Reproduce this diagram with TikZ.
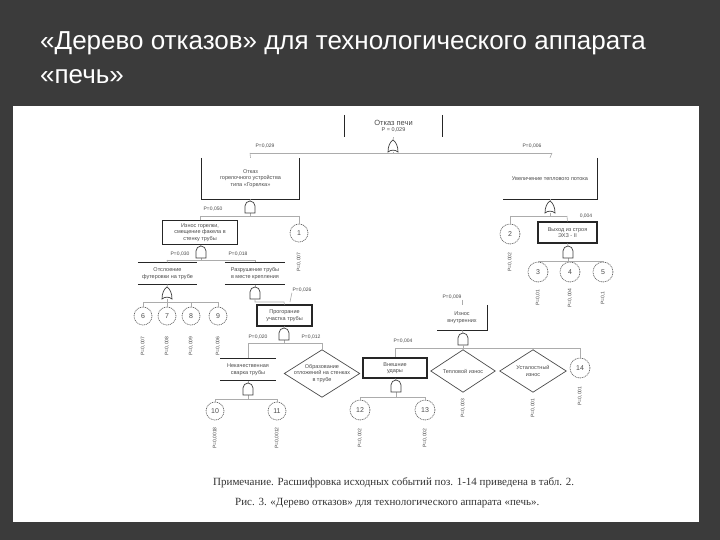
\documentclass[tikz,border=0pt]{standalone}
\usepackage{fontspec}
\setmainfont{Liberation Serif}
\setsansfont{Liberation Sans}

\definecolor{slidebg}{HTML}{3B3B3B}
\definecolor{inkgray}{HTML}{4A4A4A}

\tikzset{
  gate/.style={line width=0.7pt, draw=black!75, fill=white},
  orgate/.pic={\draw[gate] (-5,12) .. controls (-5,6) and (-3,2) .. (0,0)
      .. controls (3,2) and (5,6) .. (5,12) .. controls (2,9.5) and (-2,9.5) .. (-5,12) -- cycle;},
  andgate/.pic={\draw[gate] (-5,12) -- (-5,5) arc[start angle=180, end angle=360, radius=5] -- (5,12) -- cycle;}
}

\begin{document}
\begin{tikzpicture}[x=1pt, y=-1pt,
    edge/.style={line width=0.6pt, gray!65},
    frame/.style={line width=1.1pt, black!85},
    rhomb/.style={line width=0.7pt, draw=black!70},
    heading/.style={font=\sffamily\fontsize{26}{30}\selectfont, text=white, inner sep=0pt},
    evt/.style={font=\sffamily\fontsize{5.5}{6.5}\selectfont, text=inkgray, align=center, inner sep=1pt},
    prob/.style={font=\sffamily\fontsize{5}{6}\selectfont, text=inkgray, inner sep=0.5pt},
    vprob/.style={prob, rotate=90},
    basic/.style={circle, draw=black!60, dash pattern=on 1pt off 0.8pt, line width=0.7pt,
        minimum size=18pt, inner sep=0pt, font=\sffamily\fontsize{7}{8}\selectfont, text=black!70},
    note/.style={font=\fontsize{11}{13}\selectfont, text=black!80, inner sep=0pt}
]
\useasboundingbox (0,0) rectangle (720,540);

% Slide background and sheet
\fill[slidebg] (0,0) rectangle (720,540);
\fill[white] (13,106) rectangle (699,522);

% Title
\node[heading, anchor=base west] (t1) at (40,50) {«Дерево отказов» для технологического аппарата};
\node[heading, anchor=base west] (t2) at (40,84) {«печь»};

% Top event
\node[evt, minimum width=97pt, minimum height=22pt] (top) at (393.5,126)
    {{\fontsize{7.5}{8}\selectfont Отказ печи}\\Р = 0,029};
\draw[frame] (top.north west) -- (top.south west);
\draw[frame] (top.north east) -- (top.south east);
\coordinate (g0) at (393,140);
\coordinate (g0o) at (393,152);
\coordinate (h0L) at (250,153);
\coordinate (h0R) at (552,153);
\draw[edge] (top.south) -- (g0);
\draw[edge] (h0L) -- (h0R);
\draw[edge] (g0o) -- (g0o |- h0L);
\pic at (g0) {orgate};
\node[prob] (p0L) at (265,146) {Р=0,029};
\node[prob] (p0R) at (532,146) {Р=0,006};

% Second level
\node[evt, minimum width=97pt, minimum height=41pt] (l1) at (250.5,178.5)
    {Отказ\\горелочного устройства\\типа «Горелка»};
\draw[frame] (l1.north west) -- (l1.south west) -- (l1.south east) -- (l1.north east);
\draw[edge] (h0L) -- (l1.north);
\node[evt, minimum width=94pt, minimum height=41pt] (r1) at (550,178.5)
    {Увеличение теплового потока};
\draw[frame] (r1.north east) -- (r1.south east) -- (r1.south west);
\draw[edge] (h0R) -- (r1.north);

% Left branch
\coordinate (g1) at (250,201);
\coordinate (g1o) at (250,213);
\coordinate (h1L) at (200,216);
\coordinate (h1R) at (299,216);
\draw[edge] (l1.south) -- (g1);
\draw[edge] (g1o) -- (g1o |- h1L);
\draw[edge] (h1L) -- (h1R);
\pic at (g1) {andgate};
\node[prob] (p1) at (213,209) {Р=0,050};

\node[evt, draw=black!85, line width=1.1pt, minimum width=75pt, minimum height=24pt] (l2) at (200,232.5)
    {Износ горелки,\\смещение факела в\\стенку трубы};
\draw[edge] (h1L) -- (l2.north);
\node[basic] (c1) at (299,233) {1};
\draw[edge] (h1R) -- (c1.north);
\node[vprob] (v1) at (299,262) {Р=0,007};

\coordinate (g2) at (201,246);
\coordinate (g2o) at (201,258);
\coordinate (h2L) at (167,260);
\coordinate (h2R) at (255,260);
\draw[edge] (l2.south) -- (g2);
\draw[edge] (g2o) -- (g2o |- h2L);
\draw[edge] (h2L) -- (h2R);
\pic at (g2) {andgate};
\node[prob] (p2L) at (180,254) {Р=0,030};
\node[prob] (p2R) at (238,254) {Р=0,018};

\node[evt, minimum width=59pt, minimum height=22pt] (l3a) at (167.5,273.5)
    {Отслоение\\футеровки на трубе};
\draw[frame] (l3a.north west) -- (l3a.north east);
\draw[frame] (l3a.south west) -- (l3a.south east);
\node[evt, minimum width=60pt, minimum height=22pt] (l3b) at (255,273.5)
    {Разрушение трубы\\в месте крепления};
\draw[frame] (l3b.north west) -- (l3b.north east);
\draw[frame] (l3b.south west) -- (l3b.south east);
\draw[edge] (h2L) -- (l3a.north);
\draw[edge] (h2R) -- (l3b.north);

\coordinate (g3a) at (167,287);
\coordinate (g3ao) at (167,299);
\coordinate (h3L) at (143,302);
\coordinate (h3R) at (218,302);
\draw[edge] (l3a.south) -- (g3a);
\draw[edge] (g3ao) -- (g3ao |- h3L);
\draw[edge] (h3L) -- (h3R);
\pic at (g3a) {orgate};
\node[basic] (c6) at (143,316) {6};
\node[basic] (c7) at (167,316) {7};
\node[basic] (c8) at (191,316) {8};
\node[basic] (c9) at (218,316) {9};
\draw[edge] (h3L) -- (c6.north);
\draw[edge] (g3ao) -- (c7.north);
\draw[edge] (c8.north |- h3L) -- (c8.north);
\draw[edge] (h3R) -- (c9.north);
\node[vprob] (v6) at (143,346) {Р=0,007};
\node[vprob] (v7) at (167,346) {Р=0,008};
\node[vprob] (v8) at (191,346) {Р=0,009};
\node[vprob] (v9) at (218,346) {Р=0,006};

\coordinate (g3b) at (255,287);
\coordinate (g3bo) at (255,299);
\coordinate (k4) at (284,302);
\draw[edge] (l3b.south) -- (g3b);
\pic at (g3b) {andgate};
\node[evt, draw=black!85, line width=1.1pt, minimum width=55pt, minimum height=21pt] (l4) at (284.5,315.5)
    {Прогорание\\участка трубы};
\draw[edge] (g3bo) |- (k4) -- (l4.north);
\node[prob] (p4) at (302,290) {Р=0,026};
\draw[edge] (k4) ++(6,0) coordinate (k4l) -- (p4.south west);

\coordinate (g4) at (284,328);
\coordinate (g4o) at (284,340);
\coordinate (h4L) at (248,343);
\coordinate (h4R) at (322,343);
\draw[edge] (l4.south) -- (g4);
\draw[edge] (g4o) -- (g4o |- h4L);
\draw[edge] (h4L) -- (h4R);
\pic at (g4) {andgate};
\node[prob] (p4L) at (258,337) {Р=0,020};
\node[prob] (p4R) at (311,337) {Р=0,012};

\node[evt, minimum width=55pt, minimum height=22pt] (l5a) at (248,369.5)
    {Некачественная\\сварка трубы};
\draw[frame] (l5a.north west) -- (l5a.north east);
\draw[frame] (l5a.south west) -- (l5a.south east);
\draw[edge] (h4L) -- (l5a.north);
\node[evt, minimum width=75pt, minimum height=47pt] (d1) at (322,373.5)
    {Образование\\отложений на стенках\\в трубе};
\draw[rhomb] (d1.north) -- (d1.east) -- (d1.south) -- (d1.west) -- cycle;
\draw[edge] (h4R) -- (d1.north);

\coordinate (g5a) at (248,383);
\coordinate (g5ao) at (248,395);
\coordinate (h5L) at (215,399);
\coordinate (h5R) at (277,399);
\draw[edge] (l5a.south) -- (g5a);
\draw[edge] (g5ao) -- (g5ao |- h5L);
\draw[edge] (h5L) -- (h5R);
\pic at (g5a) {andgate};
\node[basic] (c10) at (215,411) {10};
\node[basic] (c11) at (277,411) {11};
\draw[edge] (h5L) -- (c10.north);
\draw[edge] (h5R) -- (c11.north);
\node[vprob] (v10) at (215,438) {Р=0,0018};
\node[vprob] (v11) at (277,438) {Р=0,0012};

% Right branch
\coordinate (g1r) at (550,201);
\coordinate (g1ro) at (550,213);
\coordinate (h1rL) at (510,216);
\coordinate (h1rR) at (567,216);
\draw[edge] (r1.south) -- (g1r);
\draw[edge] (g1ro) -- (g1ro |- h1rL);
\draw[edge] (h1rL) -- (h1rR);
\pic at (g1r) {orgate};
\node[basic, minimum size=20pt] (c2) at (510,234) {2};
\draw[edge] (h1rL) -- (c2.north);
\node[vprob] (v2) at (510,262) {Р=0,002};
\node[evt, draw=black!85, line width=1.1pt, minimum width=59pt, minimum height=21pt] (r2) at (567.5,232.5)
    {Выход из строя\\ЭХЗ - II};
\draw[edge] (h1rR) -- (r2.north);
\node[prob] (p1r) at (586,216) {0,004};

\coordinate (g2r) at (568,246);
\coordinate (g2ro) at (568,258);
\coordinate (h2rL) at (538,261);
\coordinate (h2rR) at (603,261);
\draw[edge] (r2.south) -- (g2r);
\draw[edge] (g2ro) -- (g2ro |- h2rL);
\draw[edge] (h2rL) -- (h2rR);
\pic at (g2r) {andgate};
\node[basic, minimum size=20pt] (c3) at (538,272) {3};
\node[basic, minimum size=20pt] (c4) at (570,272) {4};
\node[basic, minimum size=20pt] (c5) at (603,272) {5};
\draw[edge] (h2rL) -- (c3.north);
\draw[edge] (c4.north |- h2rL) -- (c4.north);
\draw[edge] (h2rR) -- (c5.north);
\node[vprob] (v3) at (538,298) {Р=0,01};
\node[vprob] (v4) at (570,298) {Р=0,004};
\node[vprob] (v5) at (603,298) {Р=0,1};

\node[prob] (p9) at (452,297) {Р=0,009};
\node[evt, minimum width=50pt, minimum height=25pt] (r3) at (462,317.5)
    {Износ\\внутренних};
\draw[frame] (r3.north east) -- (r3.south east) -- (r3.south west);
\draw[edge] (p9.south -| r3.north) -- (r3.north);

\coordinate (g3r) at (463,333);
\coordinate (g3ro) at (463,345);
\coordinate (h3rL) at (395,348);
\coordinate (h3rR) at (580,348);
\draw[edge] (r3.south) -- (g3r);
\draw[edge] (h3rL) -- (h3rR);
\pic at (g3r) {andgate};
\node[prob] (p3r) at (403,341) {Р=0,004};

\node[evt, draw=black!85, line width=1.1pt, minimum width=64pt, minimum height=20pt] (r4a) at (395,368)
    {Внешние\\удары};
\draw[edge] (h3rL) -- (r4a.north);
\node[evt, minimum width=64pt, minimum height=42pt] (d2) at (463,371) {Тепловой износ};
\draw[rhomb] (d2.north) -- (d2.east) -- (d2.south) -- (d2.west) -- cycle;
\draw[edge] (g3ro) -- (d2.north);
\node[evt, minimum width=66pt, minimum height=42pt] (d3) at (533,371) {Усталостный\\износ};
\draw[rhomb] (d3.north) -- (d3.east) -- (d3.south) -- (d3.west) -- cycle;
\draw[edge] (d3.north |- h3rL) -- (d3.north);
\node[basic, minimum size=20pt] (c14) at (580,368) {14};
\draw[edge] (h3rR) -- (c14.north);
\node[vprob] (v12d) at (463,408) {Р=0,003};
\node[vprob] (v13d) at (533,408) {Р=0,001};
\node[vprob] (v14) at (580,396) {Р=0,001};

\coordinate (g4r) at (396,380);
\coordinate (g4ro) at (396,392);
\coordinate (h4rL) at (360,397);
\coordinate (h4rR) at (425,397);
\draw[edge] (r4a.south) -- (g4r);
\draw[edge] (g4ro) -- (g4ro |- h4rL);
\draw[edge] (h4rL) -- (h4rR);
\pic at (g4r) {andgate};
\node[basic, minimum size=20pt] (c12) at (360,410) {12};
\node[basic, minimum size=20pt] (c13) at (425,410) {13};
\draw[edge] (h4rL) -- (c12.north);
\draw[edge] (h4rR) -- (c13.north);
\node[vprob] (v12) at (360,438) {Р=0,002};
\node[vprob] (v13) at (425,438) {Р=0,002};

% Caption
\node[note, anchor=west] (cap1) at (213,483)
    {Примечание. Расшифровка исходных событий поз. 1-14 приведена в табл. 2.};
\node[note, anchor=west] (cap2) at (235,503)
    {Рис. 3. «Дерево отказов» для технологического аппарата «печь».};

\end{tikzpicture}
\end{document}
